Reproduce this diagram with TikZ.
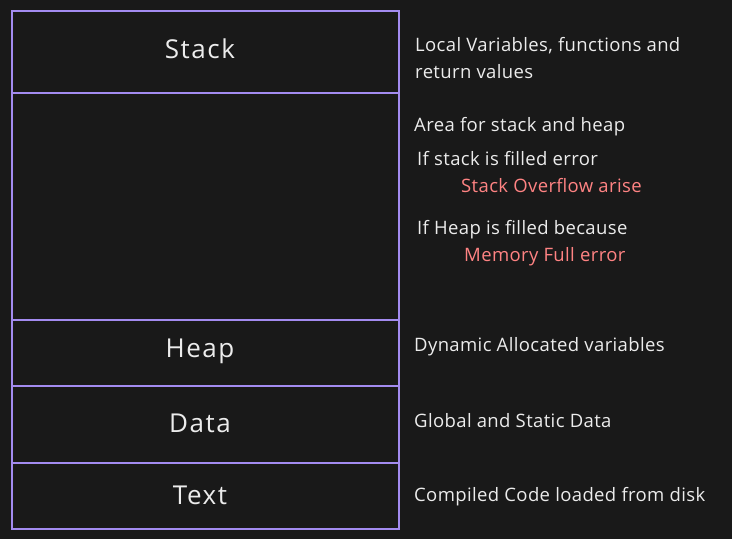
\documentclass[tikz,border=0pt]{standalone}
\usepackage{fontspec}
\setmainfont{Open Sans}
\newfontfamily\labfont[LetterSpace=6]{Open Sans}
\newfontfamily\notefont[LetterSpace=2]{Open Sans}
\definecolor{bg}{HTML}{191919}
\definecolor{edge}{HTML}{A38BF0}
\definecolor{ink}{HTML}{ECECEC}
\definecolor{warn}{HTML}{FF8383}
\begin{document}
\begin{tikzpicture}[x=1pt,y=-1pt,
  seg/.style={draw=edge,line width=1.6pt,minimum width=387pt,anchor=north west,inner sep=0pt},
  lbl/.style={text=ink,font=\labfont\fontsize{26}{30}\selectfont,inner sep=0pt},
  note/.style={text=ink,font=\notefont\fontsize{18.5}{22}\selectfont,inner sep=0pt,anchor=west},
  alert/.style={note,text=warn}]
\fill[bg] (0,0) rectangle (732,539);
\useasboundingbox (0,0) rectangle (732,539);
\node[seg,minimum height=82pt] (stack) at (11,10) {};
\node[seg,minimum height=227pt] (area) at (11,92) {};
\node[seg,minimum height=66pt] (heap) at (11,319) {};
\node[seg,minimum height=77pt] (data) at (11,385) {};
\node[seg,minimum height=66pt] (text) at (11,462) {};
\node[lbl] (tstack) at (200,49) {Stack};
\node[lbl] (theap) at (200,351) {Heap};
\node[lbl] (tdata) at (200,423) {Data};
\node[lbl] (ttext) at (200,495) {Text};
\node[note] (n1) at (415,46) {Local Variables, functions and};
\node[note] (n2) at (415,72) {return values};
\node[note] (n3) at (414,127) {Area for stack and heap};
\node[note] (n4) at (417,159) {If stack is filled error};
\node[alert] (n5) at (461,186) {Stack Overflow arise};
\node[note] (n6) at (417,230) {If Heap is filled because};
\node[alert] (n7) at (464,257) {Memory Full error};
\node[note] (n8) at (414,347) {Dynamic Allocated variables};
\node[note] (n9) at (414,421) {Global and Static Data};
\node[note] (n10) at (414,497) {Compiled Code loaded from disk};
\end{tikzpicture}
\end{document}
